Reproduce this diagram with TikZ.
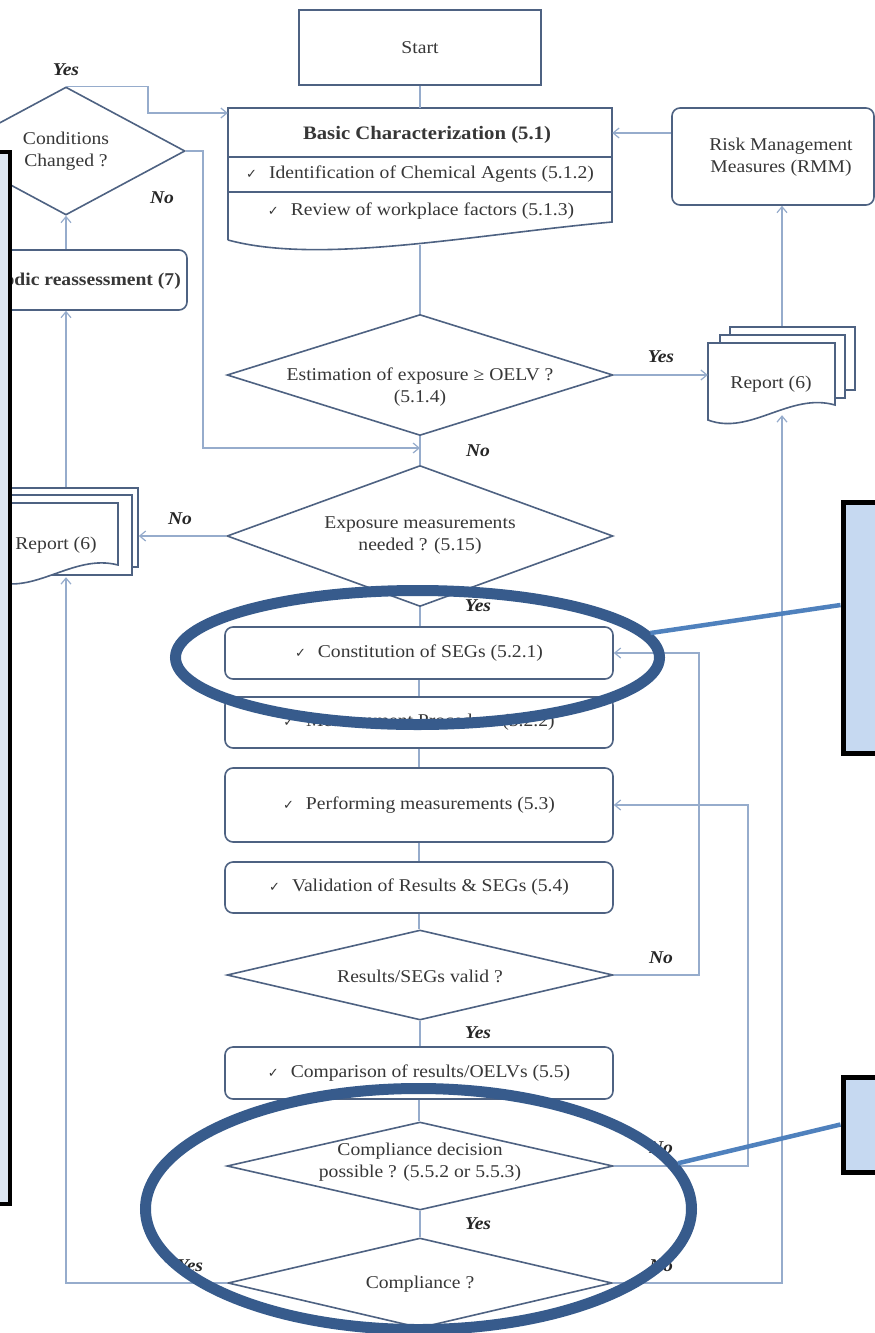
\documentclass[tikz,border=0pt]{standalone}
\usepackage{fontspec}
\setmainfont{Liberation Serif}[FakeStretch=1.09]
\newfontfamily\symf{DejaVu Sans}
\usetikzlibrary{arrows.meta,shapes.geometric}
\definecolor{shapec}{RGB}{78,98,130}
\definecolor{conc}{RGB}{150,172,204}
\definecolor{txtc}{RGB}{55,55,55}
\definecolor{ellc}{RGB}{55,91,140}
\definecolor{callc}{RGB}{79,129,189}
\definecolor{callfill}{RGB}{198,217,241}
\definecolor{leftfill}{RGB}{220,230,242}
\newcommand\ck{{\symf\fontsize{13}{13}\selectfont ✓}\hspace{12pt}}
\begin{document}
\begin{tikzpicture}[x=1pt,y=-1pt,
  shp/.style={draw=shapec,line width=1.6pt,fill=white},
  rbox/.style={shp,rounded corners=8pt,inner sep=0pt,font=\fontsize{18}{22}\selectfont,text=txtc},
  dmd/.style={shp,diamond,inner sep=0pt},
  dtxt/.style={align=center,font=\fontsize{18}{22}\selectfont,text=txtc,inner sep=0pt},
  btxt/.style={font=\fontsize{18}{22}\selectfont,text=txtc,inner sep=0pt},
  con/.style={draw=conc,line width=1.2pt},
  arr/.style={con,-{Straight Barb[length=6pt,width=10pt]}},
  lbl/.style={font=\fontsize{18}{18}\selectfont\bfseries\itshape,text=black!85,inner sep=0pt},
  ann/.style={draw=ellc,line width=11pt,ellipse,inner sep=0pt},
  cline/.style={draw=callc,line width=4.5pt},
  cbox/.style={draw=black,line width=5pt,fill=callfill,inner sep=0pt},
]
\useasboundingbox (0,0) rectangle (875,1333);
\clip (0,0) rectangle (875,1333);
\fill[white] (0,0) rectangle (875,1333);

% ---------- top ----------
\node[shp,minimum width=242pt,minimum height=75pt,inner sep=0pt,btxt] (start) at (420,47.5) {Start};

\node[inner sep=0pt,minimum width=384pt,minimum height=137pt] (basic) at (420,176.5) {};
\draw[shp] (228,240) -- (228,108) -- (612,108) -- (612,222) .. controls (470,235) and (320,265) .. (228,240);
\draw[draw=shapec,line width=1.6pt] (228,157) -- (612,157) (228,192) -- (612,192);
\node[btxt,font=\fontsize{19}{22}\selectfont\bfseries] at (427,135) {Basic Characterization (5.1)};
\node[btxt] at (420,174) {\ck Identification of Chemical Agents (5.1.2)};
\node[btxt] at (421,211) {\ck Review of workplace factors (5.1.3)};

\node[rbox,minimum width=202pt,minimum height=97pt,align=center] (rmm) at (773,156.5) {};
\node[dtxt] at (781,157) {Risk Management\\Measures (RMM)};

\node[dmd,minimum width=238pt,minimum height=128pt] (cond) at (66,151) {};
\node[dtxt] at (66,151) {Conditions\\Changed ?};

\node[rbox,minimum width=262pt,minimum height=60pt] (reass) at (56,280) {};
\node[btxt,font=\fontsize{18}{22}\selectfont\bfseries,anchor=east] at (181,281) {Periodic reassessment (7)};

% ---------- diamonds and boxes ----------
\node[dmd,minimum width=386pt,minimum height=121pt] (est) at (420,375) {};
\node[dtxt] at (420,387) {Estimation of exposure ≥ OELV ?\\(5.1.4)};

\node[dmd,minimum width=386pt,minimum height=141pt] (exp) at (420,536) {};
\node[dtxt] at (420,536) {Exposure measurements\\needed ? (5.15)};

\node[rbox,minimum width=388pt,minimum height=52pt] (seg) at (419,653) {\ck Constitution of SEGs (5.2.1)};
\node[rbox,minimum width=388pt,minimum height=51pt] (meas) at (419,722.5) {\ck Measurement Procedure (5.2.2)};
\node[rbox,minimum width=388pt,minimum height=74pt] (perf) at (419,805) {\ck Performing measurements (5.3)};
\node[rbox,minimum width=388pt,minimum height=51pt] (valb) at (419,887.5) {\ck Validation of Results \& SEGs (5.4)};

\node[dmd,minimum width=386pt,minimum height=90pt] (valid) at (420,975) {};
\node[dtxt] at (420,976) {Results/SEGs valid ?};

\node[rbox,minimum width=388pt,minimum height=52pt] (cmpb) at (419,1073) {\ck Comparison of results/OELVs (5.5)};

\node[dmd,minimum width=386pt,minimum height=88pt] (cdec) at (420,1166) {};
\node[dtxt] at (420,1162) {Compliance decision\\possible ? (5.5.2 or 5.5.3)};

\node[dmd,minimum width=384pt,minimum height=90pt] (comp) at (420,1283) {};
\node[dtxt] at (420,1284) {Compliance ?};

% ---------- reports ----------
\node[shp,inner sep=0pt,minimum width=125pt,minimum height=63pt] (repRb) at (792.5,358.5) {};
\node[shp,inner sep=0pt,minimum width=125pt,minimum height=63pt] (repRm) at (782.5,366.5) {};
\draw[shp] (708,343) -- (835,343) -- (835,405) .. controls (790,392) and (750,436) .. (708,420) -- cycle;
\node[inner sep=0pt,minimum width=127pt,minimum height=72pt] (repR) at (771.5,379) {};
\node[btxt] at (771,384) {Report (6)};

\node[shp,inner sep=0pt,minimum width=150pt,minimum height=79pt] (repLb) at (63,527.5) {};
\node[shp,inner sep=0pt,minimum width=150pt,minimum height=80pt] (repLm) at (57,535) {};
\draw[shp] (-30,503) -- (118,503) -- (118,565) .. controls (73,553) and (33,597) .. (-9,580) -- (-30,578) -- cycle;
\node[inner sep=0pt,minimum width=127pt,minimum height=74pt] (repL) at (54.5,540) {};
\node[btxt] at (56,545) {Report (6)};

% ---------- connectors ----------
\coordinate (rx) at (782,0);
\coordinate (ry) at (0,133);
\coordinate (cy1) at (148,113);
\coordinate (cn) at (203,448);
\coordinate (lx1) at (699,0);
\coordinate (lx2) at (748,0);
\coordinate (lxl) at (66,0);

\draw[con] (start.south) -- (basic.north);
\draw[con] (basic.south) -- (est.north);
\draw[con] (est.south) -- (exp.north);
\draw[con] (exp.south) -- (exp.south |- seg.north);
\draw[con] (seg.south) -- (meas.north);
\draw[con] (meas.south) -- (perf.north);
\draw[con] (perf.south) -- (valb.north);
\draw[con] (valb.south) -- (valb.south |- valid.north);
\draw[con] (valid.south) -- (valid.south |- cmpb.north);
\draw[con] (cmpb.south) -- (cmpb.south |- cdec.north);
\draw[con] (cdec.south) -- (comp.north);

\draw[arr] (cond.north) -| (cy1) -- (basic.west |- cy1);
\draw[arr] (cond.east) -| (cn) -- (cn -| est.south);
\draw[arr] (lxl |- reass.north) -- (cond.south);
\draw[arr] (lxl |- repLb.north) -- (lxl |- reass.south);
\draw[arr] (exp.west) -- (exp.west -| repLb.east);
\draw[arr] (est.east) -- (est.east -| repR.west);
\draw[arr] (rx |- repRb.north) -- (rx |- rmm.south);
\draw[arr] (rmm.west |- ry) -- (basic.east |- ry);
\draw[arr] (valid.east) -| (lx1 |- seg.east) -- (seg.east);
\draw[arr] (cdec.east) -| (lx2 |- perf.east) -- (perf.east);
\draw[arr] (comp.west) -| (lxl |- repL.south);
\draw[arr] (comp.east) -| (rx |- repR.south);

% ---------- labels ----------
\node[lbl] at (66,70) {Yes};
\node[lbl] at (162,198) {No};
\node[lbl] at (661,357) {Yes};
\node[lbl] at (478,451) {No};
\node[lbl] at (180,519) {No};
\node[lbl] at (478,606) {Yes};
\node[lbl] at (661,958) {No};
\node[lbl] at (478,1033) {Yes};
\node[lbl] at (661,1148) {No};
\node[lbl] at (478,1224) {Yes};
\node[lbl] at (190,1266) {Yes};
\node[lbl] at (661,1266) {No};

% ---------- annotations ----------
\draw[draw=black,line width=4pt,fill=leftfill] (-20,152) rectangle (10,1204);

\node[ann,minimum width=484pt,minimum height=134pt] (e1) at (417.5,657.5) {};
\node[ann,minimum width=546pt,minimum height=241pt] (e2) at (418.5,1209) {};

\node[cbox,anchor=north west,minimum width=60pt,minimum height=251pt] (cb1) at (840.5,499.5) {};
\node[cbox,anchor=north west,minimum width=60pt,minimum height=95pt] (cb2) at (840.5,1074.5) {};
\coordinate (l1) at (0,605);
\draw[cline] (e1.6) -- (cb1.west |- l1);
\draw[cline] (e2.10) -- (cb2.west);
\end{tikzpicture}
\end{document}
